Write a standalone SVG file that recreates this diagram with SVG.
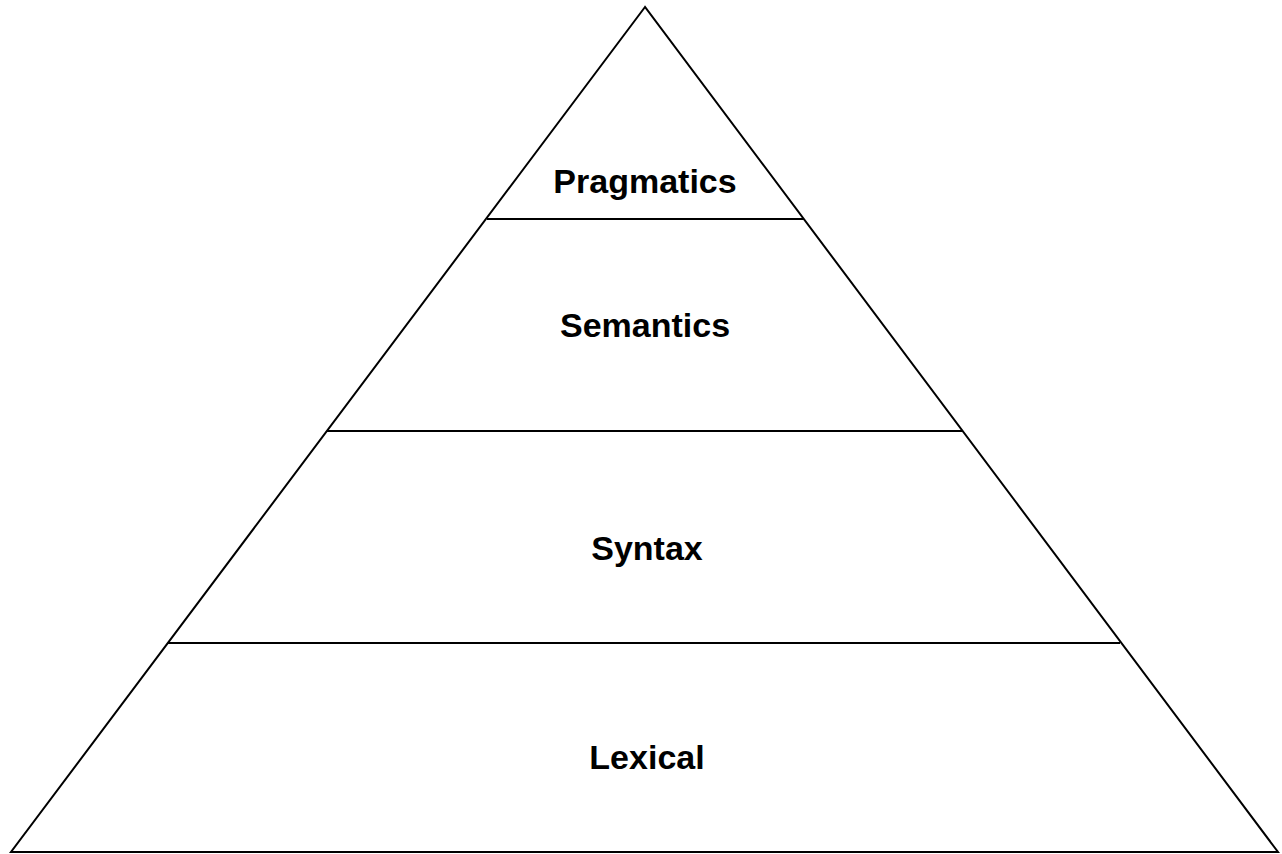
<svg xmlns="http://www.w3.org/2000/svg" width="1282" height="854" viewBox="0 0 1282 854">
<style>
.edge{fill:none;stroke:#000;stroke-width:2}
.lbl{font-family:"Liberation Sans",Arial,Helvetica,sans-serif;font-weight:bold;font-size:34px;fill:#000;text-anchor:middle}
</style>
<rect width="1282" height="854" fill="#fff"/>
<g id="connectors">
<polygon class="edge" points="645,7 11,852 1278,852"/>
<line class="edge" x1="487" y1="219" x2="804" y2="219"/>
<line class="edge" x1="327" y1="431" x2="963" y2="431"/>
<line class="edge" x1="168" y1="643" x2="1120" y2="643"/>
</g>
<g id="pragmatics"><text class="lbl" x="645" y="193">Pragmatics</text></g>
<g id="semantics"><text class="lbl" x="645" y="337">Semantics</text></g>
<g id="syntax"><text class="lbl" x="647" y="560">Syntax</text></g>
<g id="lexical"><text class="lbl" x="647" y="769">Lexical</text></g>
</svg>
